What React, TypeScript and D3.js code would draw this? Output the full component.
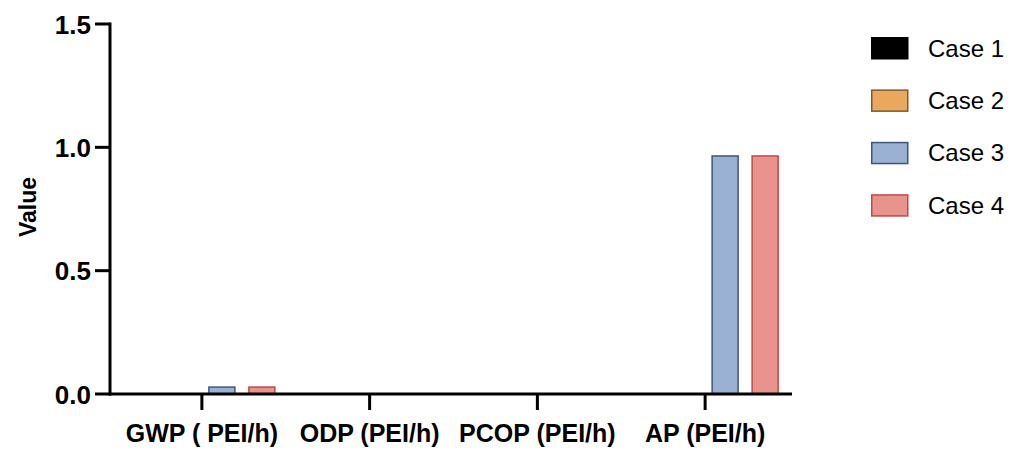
import React from "react"
import * as d3 from "d3"

const categories = ["GWP ( PEI/h)", "ODP (PEI/h)", "PCOP (PEI/h)", "AP (PEI/h)"]
const cases = ["Case 1", "Case 2", "Case 3", "Case 4"]
const case1 = [0, 0, 0, 0]
const case2 = [0, 0, 0, 0]
const case3 = [0.028, 0, 0, 0.965]
const case4 = [0.028, 0, 0, 0.965]
const yTicks = [0, 0.5, 1.0, 1.5]

const fills = ["#000000", "#E9A85E", "#9BB1D3", "#E8948D"]
const strokes = ["#000000", "#7D5A2E", "#3F5677", "#C0474A"]

const font = "'Liberation Sans', Arial, Helvetica, sans-serif"

export default function App() {
  const width = 1018
  const height = 450
  const series = [case1, case2, case3, case4]

  const x0 = d3.scaleBand().domain(categories).range([118, 789]).padding(0)
  const x1 = d3.scaleBand().domain(cases).range([-73, 73]).paddingInner(0.35).paddingOuter(0)
  const y = d3.scaleLinear().domain([0, 1.5]).range([394, 24])

  const center = (c: string) => (x0(c) ?? 0) + x0.bandwidth() / 2

  return (
    <svg
      width={width}
      height={height}
      style={{ position: "absolute", left: 0, top: 0, background: "#fff" }}
      fontFamily={font}
    >
      {/* bars */}
      {series.map((vals, si) =>
        vals.map((v, ci) => {
          if (v <= 0) return null
          const cx = center(categories[ci]) + (x1(cases[si]) ?? 0)
          return (
            <rect
              key={`${si}-${ci}`}
              x={cx}
              y={y(v)}
              width={x1.bandwidth()}
              height={y(0) - y(v)}
              fill={fills[si]}
              stroke={strokes[si]}
              strokeWidth={1.5}
            />
          )
        })
      )}

      {/* y axis */}
      <line x1={110} x2={110} y1={y(1.5) - 1.5} y2={y(0) + 1.5} stroke="#000" strokeWidth={3} />
      {yTicks.map(t => (
        <g key={t}>
          <line x1={95} x2={110} y1={y(t)} y2={y(t)} stroke="#000" strokeWidth={3} />
          <text
            x={91}
            y={y(t)}
            dy="0.37em"
            textAnchor="end"
            fontSize={26}
            fontWeight="bold"
          >
            {t.toFixed(1)}
          </text>
        </g>
      ))}
      <text
        transform={`translate(36,207) rotate(-90)`}
        textAnchor="middle"
        fontSize={23}
        fontWeight="bold"
      >
        Value
      </text>

      {/* x axis */}
      <line x1={108.5} x2={792} y1={y(0)} y2={y(0)} stroke="#000" strokeWidth={3} />
      {categories.map(c => (
        <g key={c}>
          <line x1={center(c)} x2={center(c)} y1={y(0)} y2={y(0) + 16} stroke="#000" strokeWidth={3} />
          <text x={center(c)} y={442} textAnchor="middle" fontSize={25} fontWeight="bold">
            {c}
          </text>
        </g>
      ))}

      {/* legend */}
      {cases.map((c, i) => (
        <g key={c} transform={`translate(871,${37 + i * 52.4})`}>
          <rect
            x={0.75}
            y={0.75}
            width={36}
            height={21}
            fill={fills[i]}
            stroke={strokes[i]}
            strokeWidth={1.5}
          />
          <text x={57} y={11} dy="0.36em" fontSize={24}>
            {c}
          </text>
        </g>
      ))}
    </svg>
  )
}
